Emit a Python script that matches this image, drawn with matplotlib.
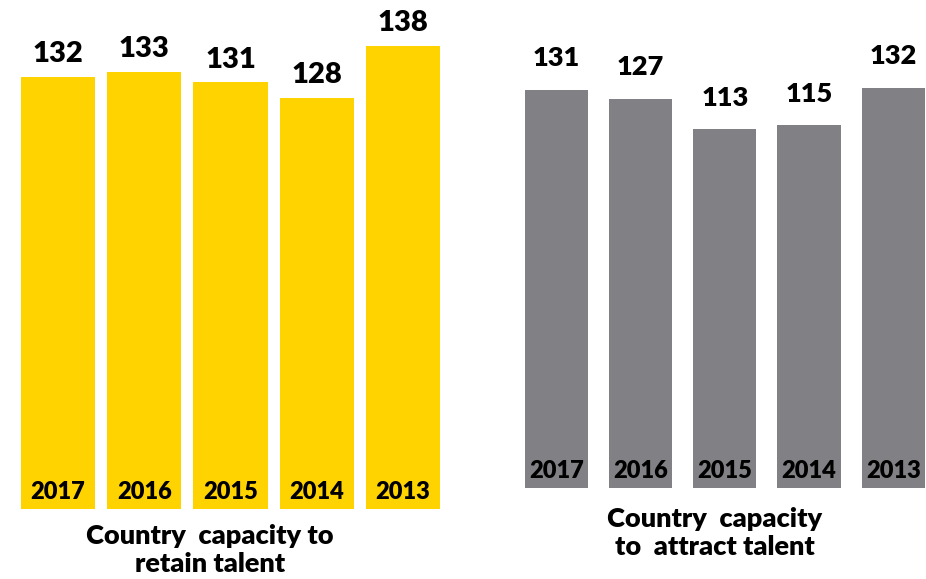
import matplotlib
matplotlib.use("Agg")
import matplotlib.pyplot as plt

plt.rcParams["font.family"] = ["Lato", "DejaVu Sans"]

# ── data ──────────────────────────────────────────────────────────────────────
years = ["2017", "2016", "2015", "2014", "2013"]
retain_values = [132, 133, 131, 128, 138]
attract_values = [131, 127, 113, 115, 132]

retain_title = "Country  capacity to\nretain talent"
attract_title = "Country  capacity\nto  attract talent"

YELLOW = "#FFD300"
GREY = "#818185"
WEIGHT = "heavy"

W, H = 926, 579
fig = plt.figure(figsize=(W / 100, H / 100), dpi=100)


def panel(rect_px, values, color, width, ylim, xlim, val_off, val_size, year_size):
    l, t, r, b = rect_px
    ax = fig.add_axes([l / W, 1 - b / H, (r - l) / W, (b - t) / H])
    base = ylim[0]
    x = range(len(values))
    ax.bar(x, [v - base for v in values], bottom=base, width=width,
           color=color, linewidth=0)
    for i, v in enumerate(values):
        ax.annotate(str(v), (i, v), xytext=(0, val_off), textcoords="offset points",
                    ha="center", va="bottom", fontsize=val_size, fontweight=WEIGHT)
        ax.annotate(years[i], (i, base), xytext=(0, 4), textcoords="offset points",
                    ha="center", va="bottom", fontsize=year_size, fontweight=WEIGHT)
    ax.set_xlim(*xlim)
    ax.set_ylim(*ylim)
    ax.axis("off")
    return ax


# left: retain talent
panel((15, 35, 446, 509), retain_values, YELLOW, 0.86, (50, 140), (-0.5, 4.5),
      7, 21, 17)
# right: attract talent
panel((514.5, 70, 926, 488), attract_values, GREY, 0.75, (-50, 140), (-0.5, 4.39),
      14, 19.5, 17)

fig.text(210 / W, 1 - 550 / H, retain_title, ha="center", va="center",
         fontsize=19.5, fontweight=WEIGHT, linespacing=1.2)
fig.text(715 / W, 1 - 533 / H, attract_title, ha="center", va="center",
         fontsize=19.5, fontweight=WEIGHT, linespacing=1.2)

fig.savefig("out.png", dpi=100)
